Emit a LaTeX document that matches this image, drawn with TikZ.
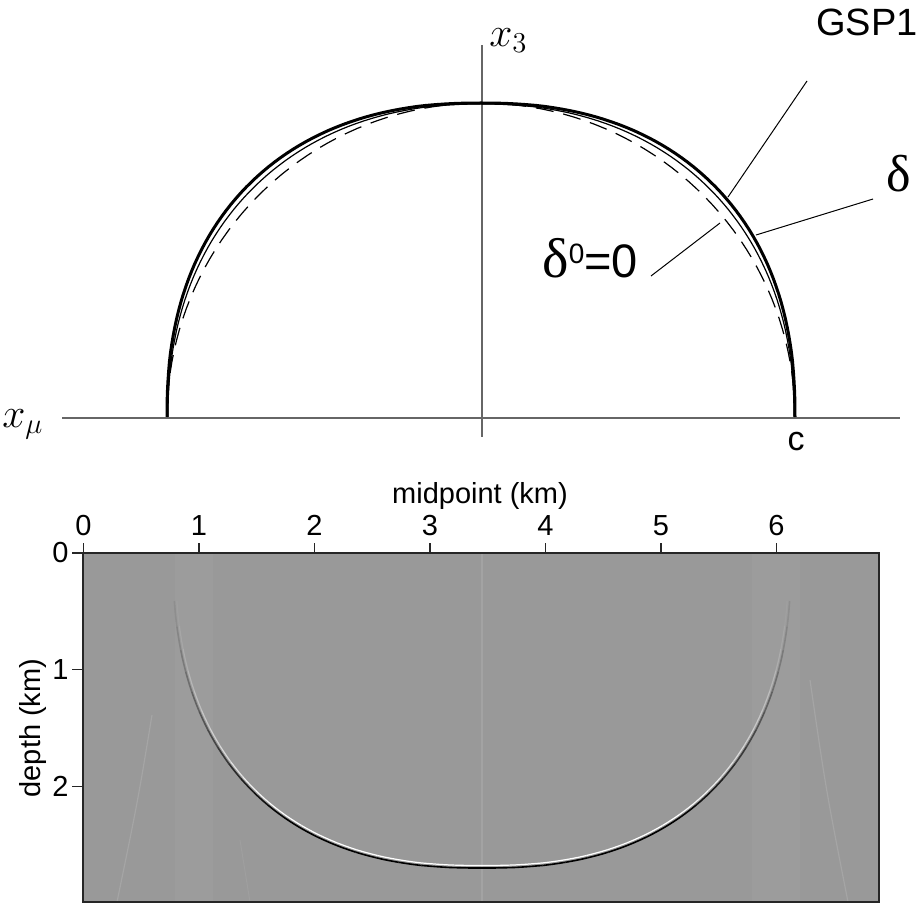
\documentclass[tikz,border=0pt]{standalone}
\usepackage[no-math]{fontspec}
\setmainfont{Liberation Sans}
\newfontfamily\greekserif{Liberation Serif}

\colorlet{bgray}{black!40}
\tikzset{
    txt/.style={inner sep=0pt},
    axisline/.style={draw=black!60, line width=0.9pt},
    leader/.style={line width=0.5pt},
    tick/.style={line width=0.7pt, draw=black!85},
    faint/.style={line width=0.6pt, white!12!bgray},
}

\begin{document}
\begin{tikzpicture}[x=0.5pt,y=-0.5pt]
\useasboundingbox (0,0) rectangle (922,905);

% wavefront sketch
\draw [axisline] (62,418) -- (900,418);
\draw [axisline] (482,45) -- (482,437);
\draw [dash pattern=on 9pt off 5pt, line width=0.6pt] plot[domain=0:180, samples=90] ({481+314*cos(\x)},{417-314*sin(\x)});
\foreach \s in {1,-1}{
    \draw [line width=0.6pt] plot[domain=0:90, samples=60] ({481+(\s)*313*max(cos(\x),0.0001)^(2/2.2)},{417-313*max(sin(\x),0.0001)^(2/2.2)});
    \draw [line width=1.5pt] plot[domain=0:90, samples=60] ({481+(\s)*314*max(cos(\x),0.0001)^(2/2.3)},{417-314*max(sin(\x),0.0001)^(2/2.3)});
}

\node [txt, anchor=base west, font=\fontsize{22}{26}\selectfont] (xthree) at (489,46) {$x_3$};
\node [txt, anchor=base west, font=\fontsize{22}{26}\selectfont] (xmu) at (2,427) {$x_\mu$};
\node [txt, anchor=base, font=\fontsize{17}{20}\selectfont] (cee) at (796,450) {c};
\node [txt, anchor=base west, font=\fontsize{19}{23}\selectfont] (gsp) at (816,35) {GSP1};
\node [txt, anchor=base west, font=\greekserif\fontsize{26}{30}\selectfont] (delta) at (886,191) {δ};
\node [txt, anchor=base west, font=\fontsize{23.5}{28}\selectfont] (deltazero) at (542,277)
    {{\greekserif\fontsize{28}{32}\selectfont δ}\raisebox{7pt}{\fontsize{14}{16}\selectfont 0}=0};

\coordinate (gsptip) at (807,81);
\coordinate (gspfoot) at (728,197);
\coordinate (deltatip) at (873,199);
\coordinate (deltafoot) at (756,235);
\coordinate (zerotip) at (651,276);
\coordinate (zerofoot) at (720,223);
\draw [leader] (gsptip) -- (gspfoot);
\draw [leader] (deltatip) -- (deltafoot);
\draw [leader] (zerotip) -- (zerofoot);

% migrated impulse response
\fill [bgray] (83,553) rectangle (879,902);
\foreach \a / \b in {175/213, 752/800}{
    \fill [white!2.5!bgray] (\a,553) rectangle (\b,902);
}
\draw [line width=0.6pt, white!10!bgray] (482,553) -- (482,902);
\draw [faint] (152,715) .. controls (138,800) .. (117,902);
\draw [faint] (810,680) .. controls (826,790) .. (848,902);
\draw [line width=0.5pt, white!6!bgray] (240,840) -- (250,902);

\foreach \s in {1,-1}{
    \foreach \t in {6,10,...,86}{
        \pgfmathsetmacro\c{int(min(100,140*sin(\t+2)^1.5))}
        \draw [line width=0.6pt, white!\c!bgray] plot[domain=\t:\t+4, samples=4] ({482+(\s)*306.5*max(cos(\x),0.0001)^(2/2.4)},{553+312.5*sin(\x)^(2/2.4)});
        \draw [line width=0.8pt, black!\c!bgray] plot[domain=\t:\t+4, samples=4] ({482+(\s)*309*max(cos(\x),0.0001)^(2/2.4)},{553+315*sin(\x)^(2/2.4)});
    }
}

\draw [line width=1pt, draw=black!85] (83,553) rectangle (879,902);

\foreach \k in {0,...,6}{
    \draw [tick] (83.5+115.5*\k,553) -- (83.5+115.5*\k,543);
    \node [txt, anchor=base, font=\fontsize{14.5}{17}\selectfont] (mx\k) at (83.5+115.5*\k,535) {\k};
}
\foreach \k in {0,1,2}{
    \draw [tick] (83,553+116.7*\k) -- (72,553+116.7*\k);
    \node [txt, anchor=east, font=\fontsize{14.5}{17}\selectfont] (dz\k) at (69,553+116.7*\k) {\k};
}

\node [txt, anchor=base, font=\fontsize{14.5}{17}\selectfont] (midlabel) at (480,503) {midpoint (km)};
\node [txt, rotate=90, font=\fontsize{14.5}{17}\selectfont] (depthlabel) at (33,728) {depth (km)};

\end{tikzpicture}
\end{document}
